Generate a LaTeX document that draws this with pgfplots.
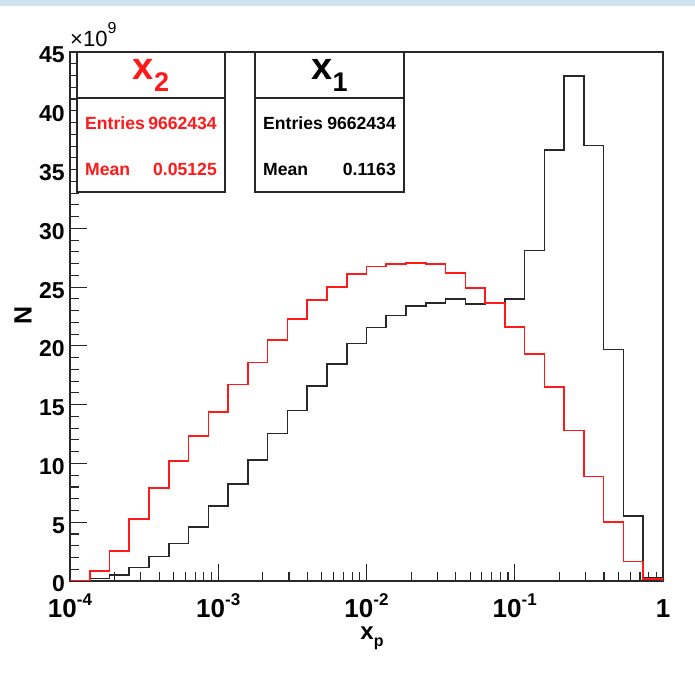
\documentclass[border=0pt]{standalone}
\usepackage{fontspec}
\setmainfont{Liberation Sans}
\usepackage{pgfplots}
\pgfplotsset{compat=1.18}
\usepackage{pgfplotstable}
\definecolor{frameblue}{RGB}{208,228,240}
\definecolor{hred}{RGB}{255,25,25}
\definecolor{hblack}{RGB}{40,40,40}
\newcommand\sups[1]{\raisebox{12pt}{\fontsize{17}{17}\selectfont #1}}

\pgfplotstableread{
x red black
0.0001 0 0
0.0001 0.05 0.05
0.00013594 0.85 0.2
0.00018478 2.55 0.5
0.00025119 5.26 1.14
0.00034145 7.9 2.07
0.00046416 10.2 3.18
0.00063096 12.36 4.6
0.00085770 14.4 6.36
0.00116591 16.7 8.27
0.00158489 18.6 10.3
0.00215443 20.5 12.56
0.00292864 22.3 14.5
0.00398107 23.9 16.6
0.00541170 25.0 18.45
0.00735642 26.1 20.2
0.0100000 26.75 21.56
0.0135936 26.95 22.57
0.0184785 27.05 23.37
0.0251189 26.97 23.66
0.0341455 26.2 24.0
0.0464159 24.9 23.55
0.0630957 23.65 23.6
0.0857696 21.6 24.0
0.116591 19.3 28.1
0.158489 16.5 36.65
0.215443 12.8 42.95
0.292864 8.9 37.05
0.398107 5.0 19.7
0.541170 1.65 5.55
0.735642 0.15 0.3
1 0.15 0.3
1 0 0
}\histdata

\begin{document}
\begin{tikzpicture}
\useasboundingbox (0pt,0pt) rectangle (695pt,-683pt);
\fill[frameblue] (0pt,0pt) rectangle (695pt,-6pt);
\begin{axis}[
  at={(70pt,-581pt)}, anchor=south west,
  width=593pt, height=529pt, scale only axis,
  xmode=log, xmin=1e-4, xmax=1, ymin=0, ymax=45,
  xtick={1e-4,1e-3,1e-2,1e-1,1},
  xticklabels={10\sups{-4},10\sups{-3},10\sups{-2},10\sups{-1},1},
  minor xtick={2e-4,3e-4,4e-4,5e-4,6e-4,7e-4,8e-4,9e-4,
               2e-3,3e-3,4e-3,5e-3,6e-3,7e-3,8e-3,9e-3,
               2e-2,3e-2,4e-2,5e-2,6e-2,7e-2,8e-2,9e-2,
               2e-1,3e-1,4e-1,5e-1,6e-1,7e-1,8e-1,9e-1},
  ytick={0,5,10,15,20,25,30,35,40,45},
  yticklabels={0,5,10,15,20,25,30,35,40,45},
  minor y tick num=4,
  tick align=inside, tick pos=left,
  major tick length=17pt, minor tick length=9pt,
  axis line style={line width=1.4pt, hblack},
  every tick/.style={hblack, line width=1.1pt},
  xticklabel style={font=\fontsize{26}{26}\selectfont\bfseries, anchor=base, inner sep=0pt, yshift=-36pt},
  yticklabel style={font=\fontsize{23}{23}\selectfont\bfseries, anchor=east, inner sep=0pt, xshift=-5pt, yshift=-3pt},
]
\addplot[const plot mark left, hblack, line width=1.6pt] table[x=x, y=black] {\histdata};
\addplot[const plot mark left, hred, line width=1.6pt] table[x=x, y=red] {\histdata};
\end{axis}
% x 10^9 factor
\node[anchor=base west, inner sep=0pt, font=\fontsize{22}{22}\selectfont] at (70pt,-46.7pt) {×10\raisebox{13pt}{\fontsize{16}{16}\selectfont 9}};
% axis labels
\node[rotate=90, inner sep=0pt, font=\fontsize{25}{25}\selectfont\bfseries] at (23pt,-315pt) {N};
\node[anchor=base, inner sep=0pt, font=\fontsize{24}{24}\selectfont\bfseries] at (372pt,-639pt) {x\raisebox{-7pt}{\fontsize{16}{16}\selectfont p}};
% stats box x2
\draw[line width=1.3pt, hblack, fill=white] (77pt,-52pt) rectangle (225pt,-192pt);
\draw[line width=1.3pt, hblack] (77pt,-98pt) -- (225pt,-98pt);
\node[anchor=base, inner sep=0pt, hred, font=\fontsize{38}{38}\selectfont\bfseries] at (151pt,-79pt) {x\raisebox{-12pt}{\fontsize{27}{27}\selectfont 2}};
\node[anchor=base west, inner sep=0pt, hred, font=\fontsize{17.6}{17.6}\selectfont\bfseries] at (85pt,-129pt) {Entries};
\node[anchor=base east, inner sep=0pt, hred, font=\fontsize{17.6}{17.6}\selectfont\bfseries] at (217pt,-129pt) {9662434};
\node[anchor=base west, inner sep=0pt, hred, font=\fontsize{17.6}{17.6}\selectfont\bfseries] at (85pt,-175pt) {Mean};
\node[anchor=base east, inner sep=0pt, hred, font=\fontsize{17.6}{17.6}\selectfont\bfseries] at (217pt,-175pt) {0.05125};
% stats box x1
\draw[line width=1.3pt, hblack, fill=white] (255pt,-52pt) rectangle (404pt,-192pt);
\draw[line width=1.3pt, hblack] (255pt,-98pt) -- (404pt,-98pt);
\node[anchor=base, inner sep=0pt, black, font=\fontsize{38}{38}\selectfont\bfseries] at (329.5pt,-79pt) {x\raisebox{-12pt}{\fontsize{27}{27}\selectfont 1}};
\node[anchor=base west, inner sep=0pt, black, font=\fontsize{17.6}{17.6}\selectfont\bfseries] at (263pt,-129pt) {Entries};
\node[anchor=base east, inner sep=0pt, black, font=\fontsize{17.6}{17.6}\selectfont\bfseries] at (396pt,-129pt) {9662434};
\node[anchor=base west, inner sep=0pt, black, font=\fontsize{17.6}{17.6}\selectfont\bfseries] at (263pt,-175pt) {Mean};
\node[anchor=base east, inner sep=0pt, black, font=\fontsize{17.6}{17.6}\selectfont\bfseries] at (396pt,-175pt) {0.1163};
\end{tikzpicture}
\end{document}
